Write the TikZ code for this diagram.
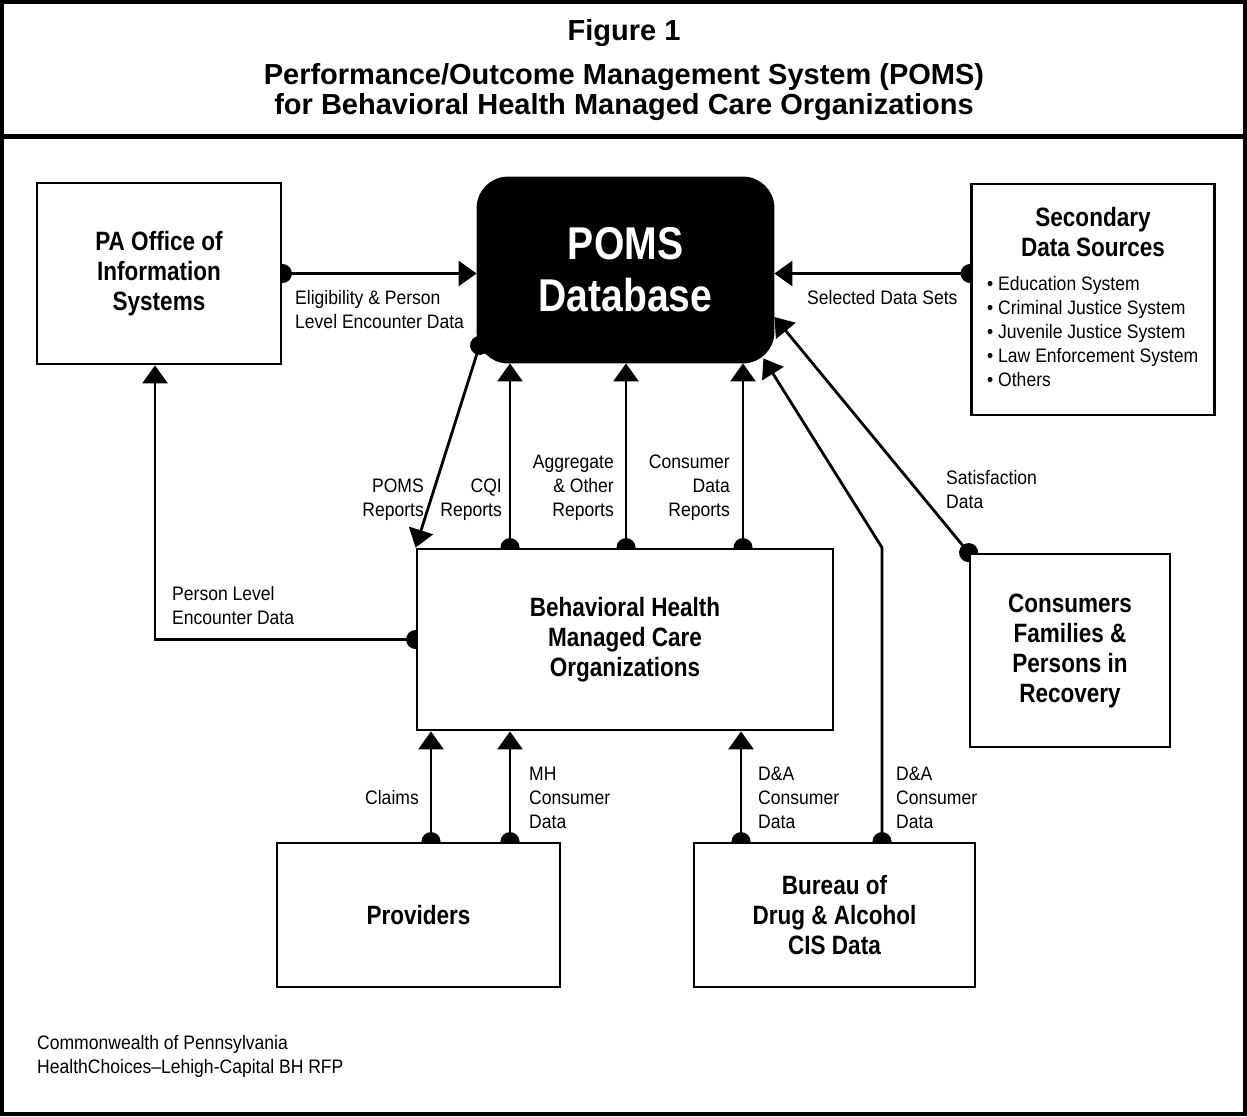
\documentclass[tikz,border=0pt]{standalone}
\usepackage{fontspec}
\setmainfont{Liberation Sans}
\newfontfamily\cnd{Liberation Sans}[FakeStretch=0.85,Ligatures=TeX]
\newfontfamily\cndl{Liberation Sans}[FakeStretch=0.9,Ligatures=TeX]
\usetikzlibrary{arrows.meta,positioning,calc,backgrounds}

\begin{document}
\begin{tikzpicture}[x=1pt,y=-1pt,
        box/.style={draw,line width=2.8pt,fill=white,inner sep=0pt},
        boxtext/.style={font=\cnd\bfseries\fontsize{26.5}{30}\selectfont,align=center},
        lbl/.style={font=\cndl\fontsize{19.5}{24}\selectfont,inner sep=0pt},
        flow/.style={line width=2.8pt,shorten <=-9.5pt,arrows={Circle[length=19pt]-Triangle[length=18pt,width=25pt]}}]
                \useasboundingbox (0,0) rectangle (1247,1116);
                \draw[line width=4pt] (2,2) rectangle (1245,1114);
                \draw[line width=5pt] (2,136) -- (1245,136);
                \node[font=\bfseries\fontsize{29}{30}\selectfont] (fig) at (624,33) {Figure 1};
                \node[font=\bfseries\fontsize{29}{30}\selectfont,align=center] (title) at (624,92) {Performance/Outcome Management System (POMS)\\for Behavioral Health Managed Care Organizations};
                \node[box,boxtext,minimum width=244pt,minimum height=181pt] (pa) at (159,273.5) {PA Office of\\Information\\Systems};
                \node[box,fill=black,text=white,rounded corners=30pt,minimum width=295pt,minimum height=184pt,
                    font=\cnd\bfseries\fontsize{46}{52}\selectfont,align=center] (poms) at (625.5,270) {POMS\\Database};
                \node[box,minimum width=243pt,minimum height=231pt] (sec) at (1093,299.5) {};
                \node[boxtext] (sectitle) at (1093,232) {Secondary\\Data Sources};
                \node[lbl,align=left,anchor=north west] (seclist) at (987,276) {\textbullet\ Education System\\\textbullet\ Criminal Justice System\\\textbullet\ Juvenile Justice System\\\textbullet\ Law Enforcement System\\\textbullet\ Others};
                \node[box,boxtext,minimum width=416pt,minimum height=181pt] (bh) at (625,639.5) {Behavioral Health\\Managed Care\\Organizations};
                \node[box,boxtext,minimum width=200pt,minimum height=193pt] (cons) at (1070,650.5) {Consumers\\Families \&\\Persons in\\Recovery};
                \node[box,boxtext,minimum width=283pt,minimum height=144pt] (prov) at (418.5,915) {Providers};
                \node[box,boxtext,minimum width=281pt,minimum height=144pt] (bur) at (834.5,915) {Bureau of\\Drug \& Alcohol\\CIS Data};
                \coordinate (prstart) at ([shift={(3pt,18pt)}]poms.south west);
                \coordinate (datip) at ([shift={(-11pt,5pt)}]poms.south east);
                \coordinate (satip) at ([yshift=-47pt]poms.east);
                \begin{scope}[on background layer]
                \draw[flow] (pa.east) -- (pa.east -| poms.west);
                \draw[flow] (sec.west |- pa.east) -- (poms.east |- pa.east);
                \draw[flow] (prstart) -- (bh.north west);
                \foreach \xx in {510,626,743}{
                \draw[flow] (bh.north -| \xx,0) -- (poms.south -| \xx,0);
                }
                \draw[flow] (bh.west) -| ([xshift=-4pt]pa.south);
                \foreach \xx in {431,510}{
                \draw[flow] (prov.north -| \xx,0) -- (bh.south -| \xx,0);
                }
                \draw[flow] (bur.north -| 741,0) -- (bh.south -| 741,0);
                \draw[flow] (bur.north -| 882,0) -- (bh.north -| 882,0) -- (datip);
                \draw[flow] (cons.north west) -- (satip);
                \end{scope}
                \node[lbl,align=left,anchor=north west] (eligtxt) at (295,290) {Eligibility \& Person\\Level Encounter Data};
                \node[lbl,align=left,anchor=north west] (seltxt) at (807,290) {Selected Data Sets};
                \node[lbl,align=right,anchor=north east] (prtxt) at (424,479) {POMS\\Reports};
                \node[lbl,align=right,anchor=north east] (cqitxt) at (502,479) {CQI\\Reports};
                \node[lbl,align=right,anchor=north east] (aggtxt) at (614,455) {Aggregate\\\& Other\\Reports};
                \node[lbl,align=right,anchor=north east] (cdrtxt) at (730,455) {Consumer\\Data\\Reports};
                \node[lbl,align=left,anchor=north west] (sattxt) at (946,470) {Satisfaction\\Data};
                \node[lbl,align=left,anchor=north west] (pletxt) at (172,586) {Person Level\\Encounter Data};
                \node[lbl,align=right,anchor=north east] (clmtxt) at (419,790) {Claims};
                \node[lbl,align=left,anchor=north west] (mhtxt) at (529,767) {MH\\Consumer\\Data};
                \node[lbl,align=left,anchor=north west] (datxt) at (758,767) {D\&A\\Consumer\\Data};
                \node[lbl,align=left,anchor=north west] (dbtxt) at (896,767) {D\&A\\Consumer\\Data};
                \node[lbl,align=left,anchor=north west] (foot) at (37,1035) {Commonwealth of Pennsylvania\\HealthChoices–Lehigh-Capital BH RFP};
            \end{tikzpicture}
\end{document}
